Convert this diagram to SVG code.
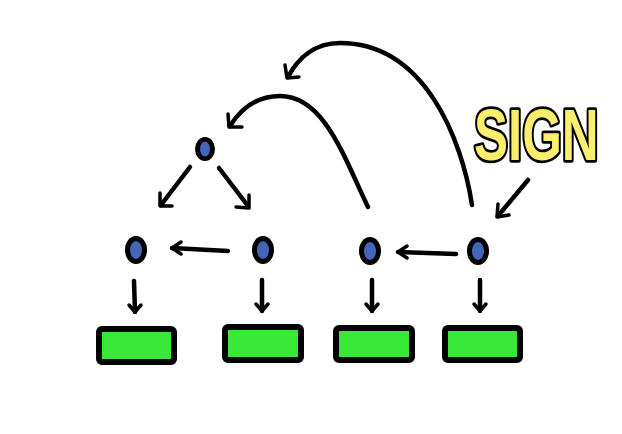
<svg xmlns="http://www.w3.org/2000/svg" width="622" height="434" viewBox="0 0 622 434">
<style>
.ln{fill:none;stroke:#000;stroke-width:4.5;stroke-linecap:round;stroke-linejoin:round}
.ar{fill:none;stroke:#000;stroke-width:3.5;stroke-linecap:round;stroke-linejoin:round}
.outer{fill:#000}
.inner{fill:#4466b8}
.box{fill:#3ae83a;stroke:#000;stroke-width:6;stroke-linejoin:round}
.sign{font-family:"Liberation Sans",Arial,sans-serif;font-weight:bold;fill:#fbee6e;stroke:#000;stroke-width:4;paint-order:stroke;stroke-linejoin:round}
</style>
<rect width="622" height="434" fill="#fff"/>
<g id="top-node"><ellipse class="outer" cx="205" cy="149" rx="10" ry="12"/><ellipse class="inner" cx="205" cy="149" rx="5" ry="7.5"/></g>
<g id="node-1"><ellipse class="outer" cx="136" cy="250" rx="11" ry="14"/><ellipse class="inner" cx="136" cy="250" rx="6" ry="9"/></g>
<g id="node-2"><ellipse class="outer" cx="263" cy="250" rx="11" ry="14"/><ellipse class="inner" cx="263" cy="250" rx="6" ry="9"/></g>
<g id="node-3"><ellipse class="outer" cx="370" cy="251" rx="11" ry="14"/><ellipse class="inner" cx="370" cy="251" rx="6" ry="9"/></g>
<g id="node-4"><ellipse class="outer" cx="478" cy="251" rx="11" ry="14"/><ellipse class="inner" cx="478" cy="251" rx="6" ry="9"/></g>
<g id="box-1"><rect class="box" x="99" y="329" width="75" height="33" rx="3"/></g>
<g id="box-2"><rect class="box" x="225" y="327" width="76" height="33" rx="3"/></g>
<g id="box-3"><rect class="box" x="336" y="328" width="76" height="32" rx="3"/></g>
<g id="box-4"><rect class="box" x="445" y="328" width="75" height="32" rx="3"/></g>
<g id="sign"><text class="sign" transform="translate(474,160) scale(1,1.4)" x="0" y="0" font-size="51">SIGN</text></g>
<g id="connectors">
<path class="ln" d="M190,167 L161,205"/><path class="ar" d="M160,193 L160,206 L172,206"/>
<path class="ln" d="M219,168 L248,206"/><path class="ar" d="M236,207 L249,208 L249,195"/>
<path class="ln" d="M228,251 L172,248"/><path class="ar" d="M181,242 L172,248 L181,254"/>
<path class="ln" d="M456,254 L398,252"/><path class="ar" d="M407,246 L398,252 L407,258"/>
<path class="ln" d="M134,281 L135,312"/><path class="ar" d="M129,305 L135,312 L141,305"/>
<path class="ln" d="M262,280 L262,311"/><path class="ar" d="M256,304 L262,311 L268,304"/>
<path class="ln" d="M372,280 L372,311"/><path class="ar" d="M366,304 L372,311 L378,304"/>
<path class="ln" d="M480,280 L480,311"/><path class="ar" d="M474,304 L480,311 L486,304"/>
<path class="ln" d="M528,180 L498,216"/><path class="ar" d="M498,204 L497,217 L509,215"/>
<path class="ln" d="M368,207 C345,160 325,96 280,96 C258,96 242,107 230,126"/><path class="ar" d="M228,114 L229,127 L242,127"/>
<path class="ln" d="M472,205 C462,140 425,43 340,43 C315,43 298,58 288,77"/><path class="ar" d="M285,65 L287,78 L299,77"/>
</g>
</svg>
